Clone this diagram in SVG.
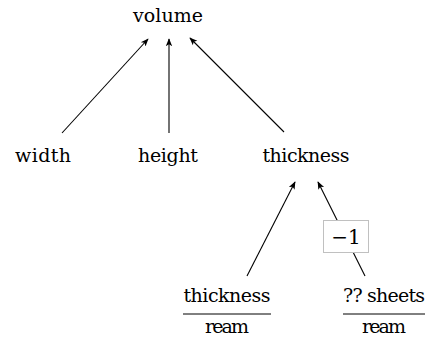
<svg xmlns="http://www.w3.org/2000/svg" width="435" height="337" viewBox="0 0 435 337">
<style>
text{font-family:"DejaVu Serif","Liberation Serif",serif;font-size:19px;fill:#000}
.c line{stroke:#000;stroke-width:1.1;marker-end:url(#ah)}
.rule{stroke:#000;stroke-width:1}
</style>
<defs>
<marker id="ah" viewBox="0 0 10 10" refX="9" refY="5" markerWidth="8" markerHeight="8" markerUnits="userSpaceOnUse" orient="auto">
<path d="M0,1 L10,5 L0,9 L2.5,5 Z" fill="#000"/>
</marker>
</defs>
<rect width="435" height="337" fill="#fff"/>
<g class="c" id="connectors">
<line x1="62" y1="133" x2="148" y2="39"/>
<line x1="169" y1="133" x2="169" y2="39"/>
<line x1="284" y1="132" x2="190" y2="38"/>
<line x1="247" y1="276" x2="295" y2="182"/>
<line x1="365" y1="276" x2="318" y2="182"/>
</g>
<g id="volume"><text x="168" y="22" text-anchor="middle" textLength="70">volume</text></g>
<g id="width"><text x="43" y="162" text-anchor="middle" textLength="56">width</text></g>
<g id="height"><text x="168" y="162" text-anchor="middle" textLength="60">height</text></g>
<g id="thickness"><text x="306" y="162" text-anchor="middle" textLength="87">thickness</text></g>
<g id="thickness-per-ream">
<text x="227" y="302" text-anchor="middle" textLength="87">thickness</text>
<line class="rule" x1="183" y1="314" x2="271" y2="314"/>
<text x="227" y="333" text-anchor="middle" textLength="44">ream</text>
</g>
<g id="sheets-per-ream">
<text x="384" y="302" text-anchor="middle" textLength="82">?? sheets</text>
<line class="rule" x1="343" y1="314" x2="425" y2="314"/>
<text x="384" y="333" text-anchor="middle" textLength="44">ream</text>
</g>
<g id="label-minus1">
<rect x="323.5" y="220.5" width="45" height="32" fill="#fff" stroke="#c0c0c0" stroke-width="1"/>
<text x="346" y="244" text-anchor="middle" style="font-size:20px">−1</text>
</g>
</svg>
